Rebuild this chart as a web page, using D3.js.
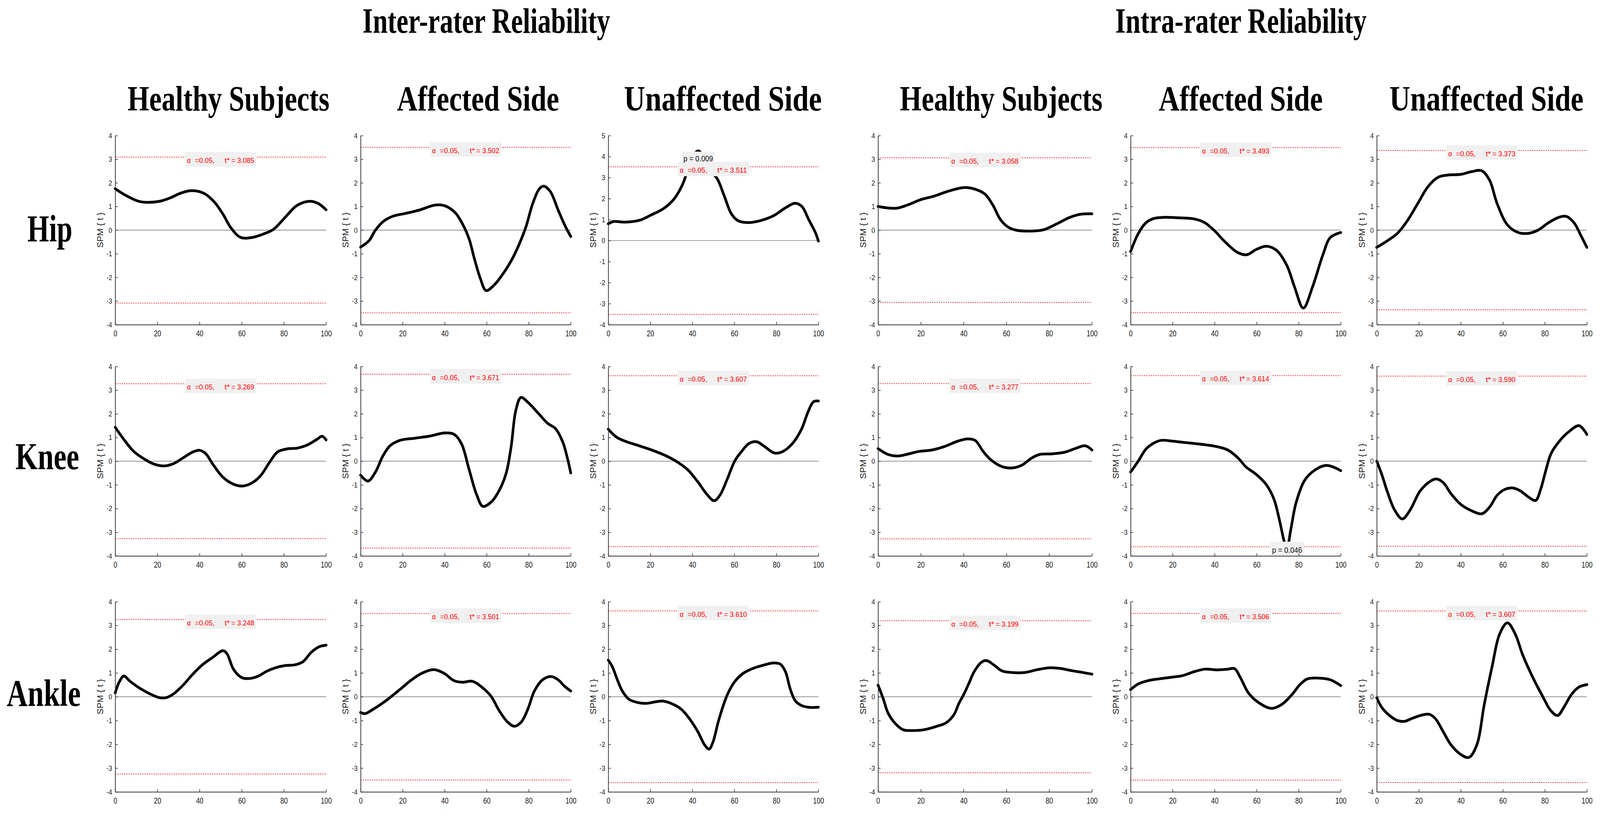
<!DOCTYPE html>
<html>
<head>
<meta charset="utf-8">
<script src="https://cdn.jsdelivr.net/npm/d3@7/dist/d3.min.js"></script>
<style>
  html, body { margin: 0; padding: 0; background: #fff; overflow: hidden; }
  svg { display: block; width: 100vw; height: 100vh; }
  text { white-space: pre; }
</style>
</head>
<body>
<svg id="chart" viewBox="0 0 4264 2099" preserveAspectRatio="none"></svg>
<script>
// ---------------- DATA ----------------
const groups = ["Inter-rater Reliability", "Intra-rater Reliability"];
const conditions = ["Healthy Subjects", "Affected Side", "Unaffected Side",
                    "Healthy Subjects", "Affected Side", "Unaffected Side"];
const joints = ["Hip", "Knee", "Ankle"];
const xTicks = [0, 20, 40, 60, 80, 100];
const yLabel = "SPM { t }";

// critical thresholds t* per joint (rows) and panel (columns)
const thresholdsHip   = [3.085, 3.502, 3.511, 3.058, 3.493, 3.373];
const thresholdsKnee  = [3.269, 3.671, 3.607, 3.277, 3.614, 3.590];
const thresholdsAnkle = [3.248, 3.501, 3.610, 3.199, 3.506, 3.607];

// y-axis upper limits (lower limit is -4 everywhere)
const yMaxHip   = [4, 4, 5, 4, 4, 4];
const yMaxKnee  = [4, 4, 4, 4, 4, 4];
const yMaxAnkle = [4, 4, 4, 4, 4, 4];

// supra-threshold cluster p values
const pNotes = [
  { joint: 0, panel: 2, x: 42.8, p: "0.009", side: "upper" },
  { joint: 1, panel: 4, x: 74.5, p: "0.046", side: "lower" }
];

// SPM{t} trajectories, [time %, t]
const hipInterHealthy = [[0,1.75],[5,1.47],[12,1.2],[21,1.22],[26,1.36],[31,1.56],[36,1.67],[42,1.56],[47,1.19],[51,0.69],[55,0.08],[59.5,-0.31],[65,-0.31],[71,-0.14],[75,0.03],[81,0.58],[86,1.03],[92,1.22],[96,1.14],[100,0.86]];
const hipInterAffected = [[0,-0.72],[4,-0.45],[7,-0.01],[11,0.38],[15.5,0.59],[21.5,0.71],[28,0.85],[35.5,1.06],[40,1.03],[45,0.74],[48.5,0.26],[51.7,-0.39],[54,-1.16],[57,-2.05],[59.7,-2.56],[63.3,-2.35],[68,-1.82],[72.5,-1.16],[75.6,-0.57],[78.7,0.14],[81.8,1.09],[85,1.74],[87.2,1.86],[90.3,1.63],[94,0.85],[97.2,0.2],[100,-0.27]];
const hipInterUnaffected = [[0,0.8],[2.4,0.91],[5,0.9],[8,0.88],[15,0.97],[20,1.2],[26.4,1.53],[31.3,1.98],[35.3,2.66],[37.4,3.24],[39.7,3.91],[42.8,4.27],[45.9,3.91],[49,3.3],[52,2.92],[55.3,2.1],[58.5,1.29],[61.7,0.95],[66.5,0.86],[72,0.94],[78.4,1.17],[84.5,1.57],[89,1.78],[92.2,1.62],[95.4,1.0],[98.5,0.4],[100,-0.02]];
const hipIntraHealthy = [[0,1.0],[4.3,0.94],[9,0.93],[14,1.07],[20,1.29],[26,1.43],[33,1.65],[40.4,1.8],[45,1.74],[50,1.52],[53.6,1.07],[57.2,0.45],[60.8,0.13],[64.4,0.0],[71.6,-0.04],[77.6,0.02],[83.7,0.27],[89.7,0.54],[94.5,0.67],[100,0.69]];
const hipIntraAffected = [[0,-0.91],[3.7,-0.14],[7.3,0.31],[11,0.49],[16,0.54],[23,0.52],[30.5,0.47],[35.4,0.31],[40.2,-0.05],[45,-0.5],[51,-0.95],[55.4,-1.04],[59.8,-0.82],[64.6,-0.68],[69.5,-0.86],[74.4,-1.5],[78,-2.4],[82.2,-3.3],[86.6,-2.4],[91.5,-1.05],[95,-0.32],[100,-0.1]];
const hipIntraUnaffected = [[0,-0.73],[4.9,-0.46],[9.8,-0.14],[14.6,0.4],[19.5,1.12],[24.4,1.84],[29.3,2.24],[34,2.33],[40,2.36],[45,2.47],[50,2.51],[53.7,2.11],[57.3,1.12],[62.2,0.22],[67,-0.09],[72,-0.14],[76.8,0.0],[81.7,0.31],[86.6,0.54],[90.2,0.58],[93.9,0.31],[97,-0.2],[100,-0.73]];

const kneeInterHealthy = [[0,1.43],[4,0.93],[8.7,0.42],[13.4,0.11],[18,-0.11],[22.8,-0.2],[27.5,-0.11],[32.2,0.14],[36.9,0.39],[40,0.46],[42.8,0.33],[46.4,-0.14],[51,-0.67],[55.8,-0.96],[60,-1.05],[64,-0.96],[68.7,-0.64],[73.4,-0.02],[77,0.39],[81.6,0.52],[86.4,0.55],[91,0.68],[95.8,0.93],[98.1,1.05],[100,0.9]];
const kneeInterAffected = [[0,-0.59],[3.5,-0.84],[7,-0.47],[10.6,0.22],[14.1,0.66],[18.8,0.88],[25.8,0.97],[33,1.06],[40,1.19],[44.6,1.13],[48.1,0.72],[51.6,-0.34],[55.2,-1.41],[58.2,-1.91],[62.2,-1.72],[65.7,-1.28],[69.2,-0.53],[71.6,0.59],[73.9,2.16],[76.3,2.69],[79.8,2.47],[84.5,2.03],[89,1.6],[92.7,1.38],[96.2,0.81],[98.6,0.06],[100,-0.5]];
const kneeInterUnaffected = [[0,1.35],[4,1.01],[8.7,0.82],[13.3,0.69],[20.4,0.48],[27.4,0.23],[33.3,-0.06],[37.9,-0.37],[42.6,-0.87],[47.3,-1.44],[50.4,-1.67],[53.2,-1.43],[56.7,-0.74],[60.2,0.01],[63.7,0.44],[67.2,0.76],[70.7,0.82],[74.2,0.63],[78.9,0.35],[82.4,0.38],[87.1,0.69],[91.8,1.32],[95.3,2.13],[97.7,2.51],[100,2.54]];
const kneeIntraHealthy = [[0,0.53],[4.8,0.28],[9.6,0.22],[14.4,0.31],[19.1,0.41],[25.1,0.47],[31.1,0.62],[37.1,0.84],[41.9,0.94],[45.5,0.87],[49,0.43],[52.6,0.07],[57.4,-0.21],[62.2,-0.29],[67,-0.18],[71.8,0.13],[75.4,0.28],[81.3,0.31],[87.3,0.38],[92.1,0.53],[96.9,0.65],[100,0.47]];
const kneeIntraAffected = [[0,-0.46],[3.7,0.01],[7.3,0.51],[11,0.76],[14.6,0.88],[19.5,0.85],[25.6,0.79],[32.9,0.72],[40.2,0.63],[46.3,0.47],[51.2,0.13],[54.9,-0.24],[59.8,-0.56],[64.6,-0.99],[68.3,-1.62],[70.7,-2.43],[73,-3.36],[74.3,-3.75],[76.3,-2.86],[78.8,-1.74],[82.9,-0.8],[87.8,-0.37],[92.7,-0.18],[96.3,-0.24],[100,-0.4]];
const kneeIntraUnaffected = [[0,0],[2.4,-0.56],[4.9,-1.25],[8.5,-2.06],[12.2,-2.44],[15.9,-2.06],[20.7,-1.25],[25.6,-0.84],[28.5,-0.75],[31.7,-0.91],[35.4,-1.38],[40.2,-1.84],[45.1,-2.09],[50,-2.22],[53.7,-1.94],[57.3,-1.44],[61,-1.19],[64.6,-1.13],[68.3,-1.25],[72,-1.5],[75.6,-1.66],[78,-1.19],[80.5,-0.38],[82.9,0.31],[86.6,0.81],[91.5,1.25],[96.3,1.5],[100,1.13]];

const ankleInterHealthy = [[0,0.16],[1.8,0.6],[4.1,0.87],[6.9,0.66],[11.6,0.36],[16.3,0.13],[21,-0.04],[24.1,-0.04],[27.2,0.09],[31.9,0.46],[36.6,0.93],[41.3,1.34],[46,1.64],[51.1,1.94],[53,1.81],[56.2,1.14],[60.1,0.8],[64,0.77],[67.9,0.87],[71.8,1.07],[75.7,1.21],[80.4,1.31],[85.1,1.34],[89,1.47],[93,1.87],[96.9,2.11],[100,2.17]];
const ankleInterAffected = [[0,-0.66],[2.1,-0.71],[6.1,-0.52],[10.9,-0.24],[14.9,0.03],[19.6,0.37],[24.4,0.72],[29.2,0.99],[34.8,1.14],[39.6,0.99],[44.4,0.68],[48.4,0.61],[53.2,0.65],[57.2,0.44],[62,0.03],[66,-0.59],[70,-1.07],[73.2,-1.24],[76.4,-1.07],[79.6,-0.52],[82.7,0.24],[86.7,0.72],[90.7,0.85],[93.9,0.72],[97.1,0.44],[100,0.24]];
const ankleInterUnaffected = [[0,1.54],[1.9,1.27],[4.3,0.72],[6.7,0.24],[9.9,-0.11],[13.9,-0.24],[17.9,-0.28],[22.7,-0.21],[25.9,-0.18],[29.9,-0.28],[34.7,-0.52],[38.7,-0.93],[42.7,-1.48],[45.9,-2.03],[48,-2.2],[49.9,-1.89],[52.3,-1.07],[54.7,-0.38],[57.1,0.17],[60.3,0.65],[64.3,0.99],[69.1,1.2],[73.9,1.33],[78.7,1.42],[81.9,1.37],[84.3,1.06],[86.7,0.3],[89.1,-0.18],[92.3,-0.38],[96.3,-0.45],[100,-0.44]];
const ankleIntraHealthy = [[0,0.49],[2.4,-0.08],[4.7,-0.69],[8.3,-1.15],[11.8,-1.39],[16.5,-1.42],[21.3,-1.39],[27.2,-1.25],[31.9,-1.09],[35.5,-0.75],[37.8,-0.28],[40.2,0.12],[42.6,0.59],[44.9,1.05],[48.5,1.46],[50.8,1.52],[54.4,1.32],[57.9,1.09],[62.6,1.02],[68.6,1.02],[74.5,1.14],[80.4,1.22],[85.1,1.19],[91,1.09],[95.7,1.02],[100,0.95]];
const ankleIntraAffected = [[0,0.3],[3.7,0.54],[8.5,0.68],[13.4,0.75],[19.5,0.82],[24.4,0.88],[30.5,1.06],[35.4,1.16],[41.5,1.13],[46.3,1.16],[49.5,1.18],[52.4,0.78],[56.1,0.16],[61,-0.25],[67.1,-0.49],[72,-0.32],[76.8,0.09],[80.5,0.5],[84.1,0.75],[90.2,0.78],[95.1,0.71],[100,0.47]];
const ankleIntraUnaffected = [[0,-0.04],[2.4,-0.45],[6.1,-0.79],[9.8,-1.0],[13.4,-1.03],[17.1,-0.9],[22,-0.76],[25.1,-0.74],[28,-0.93],[31.7,-1.48],[35.4,-2.03],[40.2,-2.44],[43.9,-2.55],[47.6,-2.03],[51.2,-0.31],[54.9,1.27],[58.5,2.64],[62.2,3.11],[65.9,2.64],[69.5,1.75],[74.4,0.79],[79.3,-0.04],[82.9,-0.59],[86.1,-0.79],[89,-0.45],[92.7,0.1],[96.3,0.41],[100,0.51]];

const curves = [
  [hipInterHealthy, hipInterAffected, hipInterUnaffected, hipIntraHealthy, hipIntraAffected, hipIntraUnaffected],
  [kneeInterHealthy, kneeInterAffected, kneeInterUnaffected, kneeIntraHealthy, kneeIntraAffected, kneeIntraUnaffected],
  [ankleInterHealthy, ankleInterAffected, ankleInterUnaffected, ankleIntraHealthy, ankleIntraAffected, ankleIntraUnaffected]
];
const thresholds = [thresholdsHip, thresholdsKnee, thresholdsAnkle];
const yMaxes = [yMaxHip, yMaxKnee, yMaxAnkle];

// ---------------- LAYOUT ----------------
const colLeft  = [307, 961, 1621, 2340, 3013, 3669];
const colRight = [869, 1521, 2181, 2910, 3573, 4229];
const rowTop    = [347, 938, 1540];
const rowBottom = [831, 1423, 2027];
const serif = "'Liberation Serif', 'Times New Roman', serif";
const sans  = "'Liberation Sans', Arial, Helvetica, sans-serif";

const svg = d3.select("#chart");
svg.append("rect").attr("width", 4264).attr("height", 2099).attr("fill", "#fff");

function fitWidth(sel, w) {
  sel.attr("textLength", w).attr("lengthAdjust", "spacingAndGlyphs");
}
function condense(sel, k) {
  sel.each(function () {
    const len = this.getComputedTextLength();
    d3.select(this).attr("textLength", len * k).attr("lengthAdjust", "spacingAndGlyphs");
  });
}
// big label squeezed horizontally to a target width via a transform
function squeezedLabel(txt, x, y, w, size, weight) {
  const t = svg.append("text").attr("x", 0).attr("y", 0)
    .attr("font-family", serif).attr("font-weight", weight).attr("font-size", size).attr("fill", "#000")
    .text(txt);
  const k = w / t.node().getComputedTextLength();
  t.attr("transform", `translate(${x},${y}) scale(${k},1)`);
  return t;
}

// Group titles
const groupPos = [[966, 660], [2972, 670]];
groups.forEach((g, i) => squeezedLabel(g, groupPos[i][0], 84, groupPos[i][1], 90, "bold"));

// Column titles
const condPos = [[340,538],[1058,432],[1663,527],[2398,540],[3088,437],[3703,517]];
conditions.forEach((c, i) => squeezedLabel(c, condPos[i][0], 283, condPos[i][1], 92, "bold"));

// Row labels
const jointPos = [[73,618,120],[41,1201,170],[18,1807,197]];
joints.forEach((j, i) => squeezedLabel(j, jointPos[i][0], jointPos[i][1], jointPos[i][2], 98, "bold"));

const line = d3.line().curve(d3.curveCatmullRom.alpha(0.5));

for (let r = 0; r < 3; r++) {
  for (let c = 0; c < 6; c++) {
    const x = d3.scaleLinear().domain([0, 100]).range([colLeft[c], colRight[c]]);
    const y = d3.scaleLinear().domain([-4, yMaxes[r][c]]).range([rowBottom[r], rowTop[r]]);
    const g = svg.append("g");
    const th = thresholds[r][c];

    // zero line
    g.append("line").attr("x1", x(0)).attr("x2", x(100)).attr("y1", y(0)).attr("y2", y(0))
      .attr("stroke", "#707070").attr("stroke-width", 1.4);

    // threshold lines
    [th, -th].forEach(v => {
      g.append("line").attr("x1", x(0)).attr("x2", x(100)).attr("y1", y(v)).attr("y2", y(v))
        .attr("stroke", "#ff2a2a").attr("stroke-width", 2).attr("stroke-dasharray", "3,3");
    });

    // SPM curve
    g.append("path").datum(curves[r][c].map(d => [x(d[0]), y(d[1])]))
      .attr("d", line).attr("fill", "none").attr("stroke", "#000")
      .attr("stroke-width", 7).attr("stroke-linejoin", "round").attr("stroke-linecap", "round");

    // threshold annotation box
    const cx = (x(0) + x(100)) / 2, ly = y(th), bx = cx - 94.5;
    g.append("rect").attr("x", bx).attr("y", ly - 13).attr("width", 189).attr("height", 37).attr("fill", "#f0f0f0");
    const tt = (txt, dx, w) => g.append("text").attr("x", bx + dx).attr("y", ly + 15)
      .attr("font-family", sans).attr("font-size", 19).attr("fill", "#ff0000").text(txt).call(fitWidth, w);
    tt("α", 5, 10);
    tt("=0.05,", 26, 52);
    tt("t*", 105, 14);
    tt("= " + d3.format(".3f")(th), 123, 61);

    // p-value notes
    pNotes.filter(p => p.joint === r && p.panel === c).forEach(p => {
      const px = x(p.x);
      if (p.side === "upper") {
        g.append("rect").attr("x", px - 44).attr("y", ly - 39).attr("width", 88).attr("height", 26).attr("fill", "#f0f0f0");
        g.append("text").attr("x", px).attr("y", ly - 14).attr("text-anchor", "middle")
          .attr("font-family", sans).attr("font-size", 21).attr("fill", "#111")
          .text("p = " + p.p).call(fitWidth, 79);
      } else {
        const lyl = y(-th);
        g.append("rect").attr("x", px - 45).attr("y", lyl - 13).attr("width", 90).attr("height", 37).attr("fill", "#f0f0f0");
        g.append("text").attr("x", px).attr("y", lyl + 15).attr("text-anchor", "middle")
          .attr("font-family", sans).attr("font-size", 21).attr("fill", "#111")
          .text("p = " + p.p).call(fitWidth, 80);
      }
    });

    // axes
    const yAxis = g.append("g").attr("transform", `translate(${x(0)},0)`)
      .call(d3.axisLeft(y).tickValues(d3.range(-4, yMaxes[r][c] + 1)).tickSizeInner(-7).tickSizeOuter(0)
        .tickPadding(8).tickFormat(d => String(d)));
    const xAxis = g.append("g").attr("transform", `translate(0,${y(-4)})`)
      .call(d3.axisBottom(x).tickValues(xTicks).tickSizeInner(-7).tickSizeOuter(0)
        .tickPadding(14).tickFormat(d => String(d)));
    [yAxis, xAxis].forEach(a => {
      a.select(".domain").attr("stroke", "#333").attr("stroke-width", 2);
      a.selectAll(".tick line").attr("stroke", "#333").attr("stroke-width", 1.6);
      a.selectAll("text").attr("font-family", sans).attr("fill", "#1a1a1a");
    });
    yAxis.selectAll("text").attr("font-size", 19).call(condense, 0.9);
    xAxis.selectAll("text").attr("font-size", 22).call(condense, 0.8);

    // y label
    g.append("text")
      .attr("transform", `translate(${x(0) - 40},${(y(-4) + y(yMaxes[r][c])) / 2}) rotate(-90)`)
      .attr("text-anchor", "middle").attr("dy", "0.35em")
      .attr("font-family", sans).attr("font-size", 23).attr("fill", "#222")
      .text(yLabel);
  }
}
</script>
</body>
</html>
